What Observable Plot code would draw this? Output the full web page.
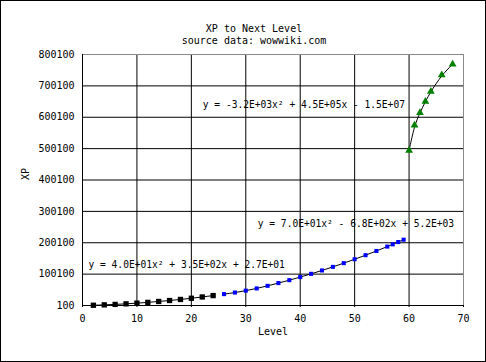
<!DOCTYPE html>
<html><head><meta charset="utf-8">
<script src="https://cdn.jsdelivr.net/npm/d3@7"></script>
<script src="https://cdn.jsdelivr.net/npm/@observablehq/plot@0.6"></script>
<style>
body{margin:0;background:white}
#chart svg{display:block;outline:1px solid black;outline-offset:-1px}
</style>
</head><body><div id="chart"></div>
<script>
// Levels 2-24 (black squares)
const lowLevels = [2,4,6,8,10,12,14,16,18,20,22,24];
const lowXP     = [900,2100,3600,5400,7600,10100,12900,16000,19400,23200,27300,31700];
// Levels 26-59 (blue squares)
const midLevels = [26,28,30,32,34,36,38,40,42,44,46,48,50,52,54,56,57,58,59];
const midXP     = [36400,41400,47400,54500,62800,71600,80800,90700,101000,111800,123200,135100,147500,160400,173900,187900,195000,202300,209800];
// Levels 60-68 (green triangles)
const highLevels = [60,61,62,63,64,66,68];
const highXP     = [494000,574700,614400,650300,682300,734600,768900];

const xTicks = [0,10,20,30,40,50,60,70];
const yTicks = [100,100100,200100,300100,400100,500100,600100,700100,800100];

const eqTexts  = ["y = -3.2E+03x² + 4.5E+05x - 1.5E+07", "y = 7.0E+01x² - 6.8E+02x + 5.2E+03", "y = 4.0E+01x² + 3.5E+02x + 2.7E+01"];
const eqLevels = [22.1, 32.2, 1.1];
const eqXP     = [640700, 259200, 129800];

const title = "XP to Next Level";
const subtitle = "source data: wowwiki.com";

const table = (lv, xp) => lv.map((l, i) => ({level: l, xp: xp[i]}));
const low = table(lowLevels, lowXP);
const mid = table(midLevels, midXP);
const high = table(highLevels, highXP);
const eqs = eqTexts.map((t, i) => ({text: t, level: eqLevels[i], xp: eqXP[i]}));

const chart = Plot.plot({
  width: 486, height: 362,
  marginLeft: 82, marginRight: 23, marginTop: 54, marginBottom: 57,
  style: {fontFamily: "DejaVu Sans Mono", fontSize: "10px", background: "white", color: "black"},
  x: {domain: [0, 70]},
  y: {domain: [100, 800100]},
  marks: [
    Plot.gridX(xTicks.slice(0, -1), {stroke: "black", strokeOpacity: 1}),
    Plot.gridY(yTicks.slice(0, -1), {stroke: "black", strokeOpacity: 1}),
    Plot.frame({stroke: "#8a8a8a"}),
    Plot.ruleX([0], {stroke: "black"}),
    Plot.ruleY([100], {stroke: "black"}),
    Plot.axisX({ticks: xTicks, tickSize: 2, tickPadding: 7, label: null, fill: "black"}),
    Plot.axisY({ticks: yTicks, tickSize: 0, tickPadding: 8, label: null, tickFormat: d3.format("d"), fill: "black"}),
    Plot.text(eqs, {x: "level", y: "xp", text: "text", textAnchor: "start", fill: "black", fontSize: 9.6}),
    Plot.line(low, {x: "level", y: "xp", stroke: "black", strokeWidth: 1, curve: "monotone-x"}),
    Plot.line(mid, {x: "level", y: "xp", stroke: "black", strokeWidth: 1, curve: "monotone-x"}),
    Plot.line(high, {x: "level", y: "xp", stroke: "black", strokeWidth: 1, curve: "basis"}),
    Plot.dot(low, {x: "level", y: "xp", symbol: "square", r: 3.0, fill: "black", stroke: "none"}),
    Plot.dot(mid, {x: "level", y: "xp", symbol: "square", r: 2.3, fill: "#0000ff", stroke: "none"}),
    Plot.dot(high, {x: "level", y: "xp", symbol: "triangle", r: 2.9, fill: "#008000", stroke: "none"}),
    Plot.text([title], {frameAnchor: "top", dx: -19, dy: -30, fill: "black"}),
    Plot.text([subtitle], {frameAnchor: "top", dx: -19, dy: -18, fill: "black"}),
    Plot.text(["Level"], {frameAnchor: "bottom", dy: 29, fill: "black"}),
    Plot.text(["XP"], {frameAnchor: "left", dx: -57, rotate: -90, fill: "black"})
  ]
});
document.getElementById("chart").appendChild(chart);
</script>
</body></html>
